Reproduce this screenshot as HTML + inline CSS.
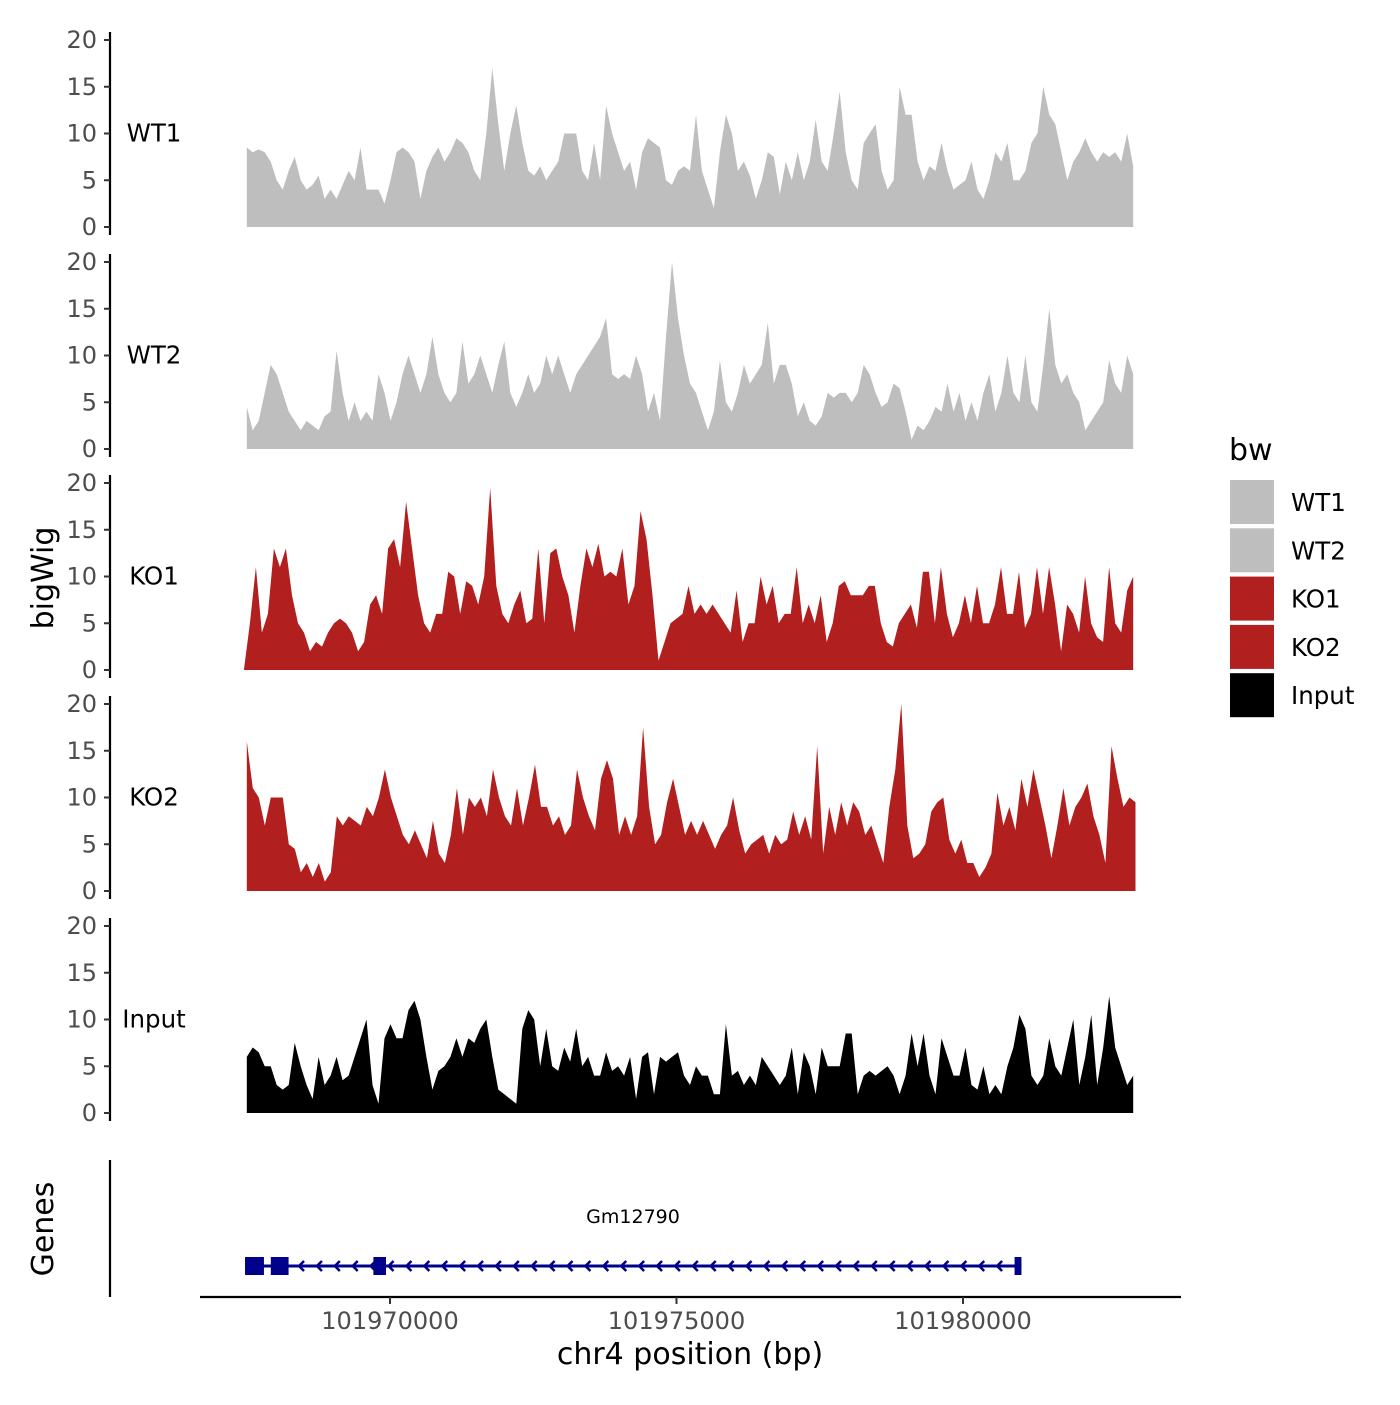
<!DOCTYPE html>
<html><head><meta charset="utf-8"><style>
html,body{margin:0;padding:0;background:#fff}
svg text{font-family:"DejaVu Sans","Liberation Sans",sans-serif}
</style></head><body>
<svg id="chart" width="1400" height="1400" viewBox="0 0 1400 1400" xmlns="http://www.w3.org/2000/svg"></svg>
<script>
const trackNames = ["WT1","WT2","KO1","KO2","Input"];
const trackColors = ["#bebebe","#bebebe","#b21f1f","#b21f1f","#000000"];
const wt1 = [8.5,8,8.3,8,7,5,4,6,7.5,5,4,4.5,5.5,3,4,3,4.5,6,5,8.5,4,4,4,2.5,5,8,8.5,8,7,3,6,7.5,8.5,7,8,9.5,9,8,6,5,10,17,11,6,10,13,9,6,5.5,6.5,5,6,7,10,10,10,6,5,9,5,13,10,8,6,7,4,8,9.5,9,8.5,5,4.5,6,6.5,6,12,6,4,2,8,12,10,6,7,5.5,3,5,8,7.5,3.5,7,5,8,5,7,11.5,7,6,10,14.5,8,5,4,9,10,11,6,4,5,15,12,12,7,5,6.5,6,9,6,4,4.5,5,7,4,3,5,8,7,9,5,5,6,9,10,15,12,11,8,5,7,8,9.5,8,7,8,7.5,8,7,10,6.5];
const wt2 = [4.5,2,3,6,9,8,6,4,3,2,3,2.5,2,3.5,4,10.5,6,3,5,3,4,3,8,6,3,5,8,10,8,6,8,12,8,6,5,6,11.5,7,8,10,8,6,9,11.5,6,4.5,6,8,6,7,10,8,10,8,6,8,9,10,11,12,14,8,7.5,8,7.5,10,8,4,6,3,12,20,14,10,7,6,4,2,4,9.5,5,4,6,9,7,8,9,13.5,7,9,9,7,3.5,5,3,2.5,3.5,6,5.5,6,6,5,6,9,8,6,4.5,5,7,6.5,4,1,2.5,2,3,4.5,4,7,4,6,3,5,3,6,8,4,6,10,6,5,10,5,4,9,15,9,7,8,6,5,2,3,4,5,9.5,7,6,10,8];
const ko1 = [0,5,11,4,6,13,11,13,8,5,4,2,3,2.5,4,5,5.5,5,4,2,3,7,8,6,13,14,11,18,13,8,5,4,6,6,10.5,10,6,9.5,9,7,10,19.5,9,6,5,7,8.5,5,5.5,13,5,12.5,13,10,8,4,9,13,11,13.5,10,10.5,10,13,7,9,17,14,8,1,3,5,5.5,6,9,6,7,6,7,6,5,4,8.5,3,5,5,10,7,9,5,6,6,11,5,7,5,8,3,5,9,9.5,8,8,8,9,9,5,3,2.5,5,6,7,4.5,10.5,10.5,5,11,6,3.5,5,8,5,9,5,5,7,11,6,6,10.5,4.5,6,11,6,11,7,2,7,6,4,10,5,3.5,3,11,5,4,8.5,10];
const ko2 = [16,11,10,7,10,10,10,5,4.5,2,3,1.5,3,1,2,8,7,8,7.5,7,9,8,10,13,10,8,6,5,6.5,5,3.5,7.5,4,3,6,11,6,10,9,10,8,13,10,8,7,11,7,10,13.5,9,9,7,8,6,7,13,10,8,6.5,12,14,12,6,8,6,8,17.5,9,5,6,9.5,12,9,6,7.5,6,7.5,6,4.5,6,7,10,6.5,4,5,5.5,6,4,6,5,5.5,8.5,6,8,5.5,15.5,4,9,6,9.5,7,9.5,8.5,6,7,5,3,9,13,20,7,3.5,4,5,8.5,9.5,10,5.5,4,5.5,3,3,1.5,2.5,4,10.5,7,9,6.5,12,9,13,10,7,3.5,7,11,7,9,10,11.5,8,6,3,15.5,12,9,10,9.5];
const input = [6,7,6.5,5,5,3,2.5,3,7.5,5,3,1.5,6,3,4,6,3.5,4,6,8,10,3,1,8,9.5,8,8,11,12,10,6,2.5,4.5,5,6,8,6,8,7.5,9,10,6,2.5,2,1.5,1,9,11,10,5,9,5,4.5,7,5.5,9,5,6,4,4,6.5,4.5,5,4,6,1.5,6,6.5,2,6,5.5,6,6.5,4,3,5,4,4,2,2,9.5,4,4.5,3,4,3,6,5,4,3,4,7,2,6.5,5,2,7,5,5,5,8.5,8.5,2,4,4.5,4,4.5,5,4,2,4,8.5,5,8.5,4,2,8,6,4,4,7,3,2.5,5,2,3,2,5,7,10.5,9,4,3,4,8,5,4,7,10,3,6,10.5,3,7,12.5,7,5,3,4];
const trackValues = [wt1,wt2,ko1,ko2,input];
const trackStartBp = [101967500,101967500,101967450,101967500,101967500];
const trackEndBp = [101982970,101982970,101982970,101983010,101982970];
const yTicks = [0,5,10,15,20];
const xTicks = [101970000,101975000,101980000];
const geneExonsStart = [101967470,101967920,101969710,101980900];
const geneExonsEnd = [101967800,101968230,101969930,101981020];
const geneStart = 101967470, geneEnd = 101981020, geneName = "Gm12790";

const NS="http://www.w3.org/2000/svg";
const svg=document.getElementById('chart');
function mk(tag,attrs,parent){const e=document.createElementNS(NS,tag);for(const k in attrs)e.setAttribute(k,attrs[k]);(parent||svg).appendChild(e);return e;}
const xScale=bp=>390+(bp-101970000)*(286.5/5000);
const panelZero=[227,449,670,891,1113];
const yPer=187/20;

trackNames.forEach((nm,i)=>{
  const g=mk('g',{});
  
  
  const y0=panelZero[i];
  const yS=v=>y0-v*yPer;
  const vals=trackValues[i], n=vals.length;
  const step=(trackEndBp[i]-trackStartBp[i])/(n-1);
  let d='M'+xScale(trackStartBp[i]).toFixed(1)+','+y0;
  vals.forEach((v,j)=>{d+=' L'+xScale(trackStartBp[i]+j*step).toFixed(1)+','+yS(v).toFixed(1);});
  d+=' L'+xScale(trackEndBp[i]).toFixed(1)+','+y0+' Z';
  const p=mk('path',{d:d,fill:trackColors[i]},g);
  
  
  const ax=mk('line',{x1:110,x2:110,y1:yS(20)-8,y2:y0+8,stroke:'#000','stroke-width':2.2},g);
  
  
  yTicks.forEach(t=>{
    mk('line',{x1:104,x2:110,y1:yS(t),y2:yS(t),stroke:'#333','stroke-width':2},g);
    const tx=mk('text',{x:97,y:yS(t)+8,'text-anchor':'end','font-size':24,fill:'#4d4d4d'},g);
    tx.textContent=t;
    
    
  });
  const lb=mk('text',{x:154,y:yS(10)+8,'text-anchor':'middle','font-size':24.5,fill:'#000'},g);
  lb.textContent=nm;
  
  
});

// Gene track
const gg=mk('g',{});


mk('line',{x1:110,x2:110,y1:1160,y2:1297,stroke:'#000','stroke-width':2.2},gg);
const gy=1266;
mk('line',{x1:xScale(geneStart),x2:xScale(geneEnd),y1:gy,y2:gy,stroke:'#00008b','stroke-width':3},gg);
for(let x=xScale(geneStart)+55;x<xScale(geneEnd)-8;x+=17.9){
  mk('polyline',{points:(x+4)+','+(gy-5)+' '+(x-1)+','+gy+' '+(x+4)+','+(gy+5),fill:'none',stroke:'#00008b','stroke-width':2.5},gg);
}
geneExonsStart.forEach((s,k)=>{
  const r=mk('rect',{x:xScale(s),y:gy-9,width:xScale(geneExonsEnd[k])-xScale(s),height:18,fill:'#00008b'},gg);
  
  
});
const gl=mk('text',{x:633,y:1223,'text-anchor':'middle','font-size':19,fill:'#000'},gg);
gl.textContent=geneName;



// X axis
const xa=mk('g',{});


mk('line',{x1:200,x2:1181,y1:1297,y2:1297,stroke:'#000','stroke-width':2.2},xa);
xTicks.forEach(t=>{
  mk('line',{x1:xScale(t),x2:xScale(t),y1:1297,y2:1304,stroke:'#333','stroke-width':2},xa);
  const tx=mk('text',{x:xScale(t),y:1329,'text-anchor':'middle','font-size':24,fill:'#4d4d4d'},xa);
  tx.textContent=t;
  
  
});
const xt=mk('text',{x:690,y:1364,'text-anchor':'middle','font-size':30,fill:'#000'});
xt.textContent='chr4 position (bp)';


const yt=mk('text',{x:0,y:0,'text-anchor':'middle','font-size':30,fill:'#000',transform:'translate(53,578) rotate(-90)'});
yt.textContent='bigWig';


const gt=mk('text',{x:0,y:0,'text-anchor':'middle','font-size':30,fill:'#000',transform:'translate(53,1229) rotate(-90)'});
gt.textContent='Genes';



// Legend
const lg=mk('g',{});


const lt=mk('text',{x:1229,y:460,'font-size':30,fill:'#000'},lg);
lt.textContent='bw';


trackNames.forEach((nm,i)=>{
  const y=480+i*48.3;
  const e=mk('g',{},lg);
  
  
  mk('rect',{x:1230,y:y,width:44,height:44,fill:trackColors[i]},e);
  const t=mk('text',{x:1291,y:y+31,'font-size':24.5,fill:'#000'},e);
  t.textContent=nm;
});
</script>
</body></html>
